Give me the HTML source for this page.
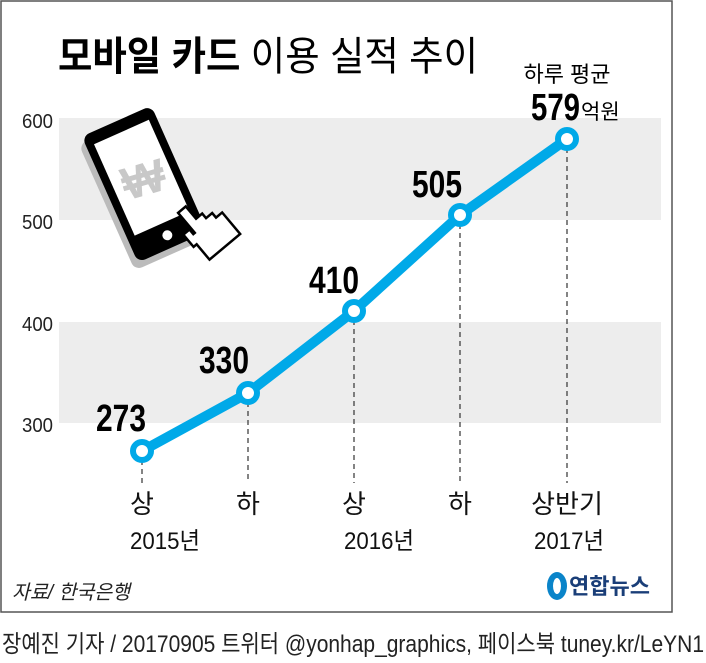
<!DOCTYPE html>
<html><head><meta charset="utf-8"><style>
body{margin:0;background:#fff;width:706px;height:658px;overflow:hidden}
svg text{font-family:"Liberation Sans","Noto Sans CJK KR",sans-serif}
</style></head><body>
<svg width="706" height="658" xmlns="http://www.w3.org/2000/svg">
<rect x="1" y="1" width="671" height="611" fill="#fff" stroke="#555" stroke-width="1.5"/>
<text x="58" y="70" font-size="40" textLength="420" lengthAdjust="spacingAndGlyphs"><tspan font-weight="bold">모바일 카드</tspan> 이용 실적 추이</text>
<rect x="59" y="118" width="602" height="102" fill="#ededed"/>
<rect x="59" y="322" width="602" height="101" fill="#ededed"/>
<g font-size="20" fill="#222" text-anchor="end">
<text x="53" y="128" textLength="31" lengthAdjust="spacingAndGlyphs">600</text><text x="53" y="229" textLength="31" lengthAdjust="spacingAndGlyphs">500</text><text x="53" y="331" textLength="31" lengthAdjust="spacingAndGlyphs">400</text><text x="53" y="432" textLength="31" lengthAdjust="spacingAndGlyphs">300</text>
</g>
<!-- phone -->
<g transform="translate(145,185) rotate(-24)">
<rect x="-38" y="-70" width="76" height="138" rx="8" fill="#bbb" transform="translate(-6,6)"/>
<rect x="-38" y="-70" width="76" height="138" rx="8" fill="#000"/>
<rect x="-30" y="-58" width="60" height="100" fill="#fff"/>
<circle cx="0" cy="55" r="5" fill="#fff"/>
<text x="0" y="10" font-size="46" font-weight="bold" fill="#c8c8c8" text-anchor="middle" transform="rotate(8)">₩</text>
</g>
<g transform="translate(202,232) rotate(-40)">
<path d="M-6,-30 h10 v16 h8 v6 h8 v6 h8 v28 h-40 v-20 h-4 v-16 h8 v6 h2 z" fill="#fff" stroke="#000" stroke-width="2.5"/>
</g>
<g stroke="#333" stroke-width="1.2" stroke-dasharray="5,4">
<line x1="142" y1="451" x2="142" y2="483"/><line x1="248" y1="393" x2="248" y2="483"/><line x1="354" y1="311" x2="354" y2="483"/><line x1="460" y1="215" x2="460" y2="483"/><line x1="567" y1="139" x2="567" y2="483"/>
</g>
<polyline points="142,451 248,393 354,311 460,215 567,139" fill="none" stroke="#00a9e8" stroke-width="10"/>
<g fill="#fff" stroke="#00a9e8" stroke-width="6">
<circle cx="142" cy="451" r="9"/><circle cx="248" cy="393" r="9"/><circle cx="354" cy="311" r="9"/><circle cx="460" cy="215" r="9"/><circle cx="567" cy="139" r="9"/>
</g>
<g font-size="38" fill="#000" font-weight="bold">
<text x="96" y="431" textLength="50" lengthAdjust="spacingAndGlyphs">273</text><text x="199" y="373" textLength="50" lengthAdjust="spacingAndGlyphs">330</text><text x="309" y="293" textLength="50" lengthAdjust="spacingAndGlyphs">410</text><text x="412" y="197" textLength="50" lengthAdjust="spacingAndGlyphs">505</text>
<text x="531" y="120" textLength="49" lengthAdjust="spacingAndGlyphs">579</text>
</g>
<text x="581" y="119" font-size="21">억원</text>
<text x="567" y="82" font-size="22" text-anchor="middle">하루 평균</text>
<g font-size="26" fill="#111" text-anchor="middle">
<text x="142" y="513">상</text><text x="248" y="513">하</text><text x="354" y="513">상</text><text x="460" y="513">하</text><text x="567" y="513">상반기</text>
</g>
<g font-size="24" fill="#111">
<text x="130" y="549" textLength="70" lengthAdjust="spacingAndGlyphs">2015년</text><text x="344" y="549" textLength="70" lengthAdjust="spacingAndGlyphs">2016년</text><text x="534" y="549" textLength="70" lengthAdjust="spacingAndGlyphs">2017년</text>
</g>
<text x="12" y="599" font-size="20" fill="#222" font-style="italic" textLength="118" lengthAdjust="spacingAndGlyphs">자료/ 한국은행</text>
<ellipse cx="557" cy="586" rx="10" ry="14" fill="#0a84c9"/>
<ellipse cx="557" cy="586" rx="4" ry="8" fill="#fff"/>
<text x="569" y="594" font-size="22" font-weight="bold" fill="#1a3e78">연합뉴스</text>
<text x="2" y="652" font-size="24" fill="#222" textLength="702" lengthAdjust="spacingAndGlyphs">장예진 기자 / 20170905 트위터 @yonhap_graphics, 페이스북 tuney.kr/LeYN1</text>
</svg>
</body></html>
